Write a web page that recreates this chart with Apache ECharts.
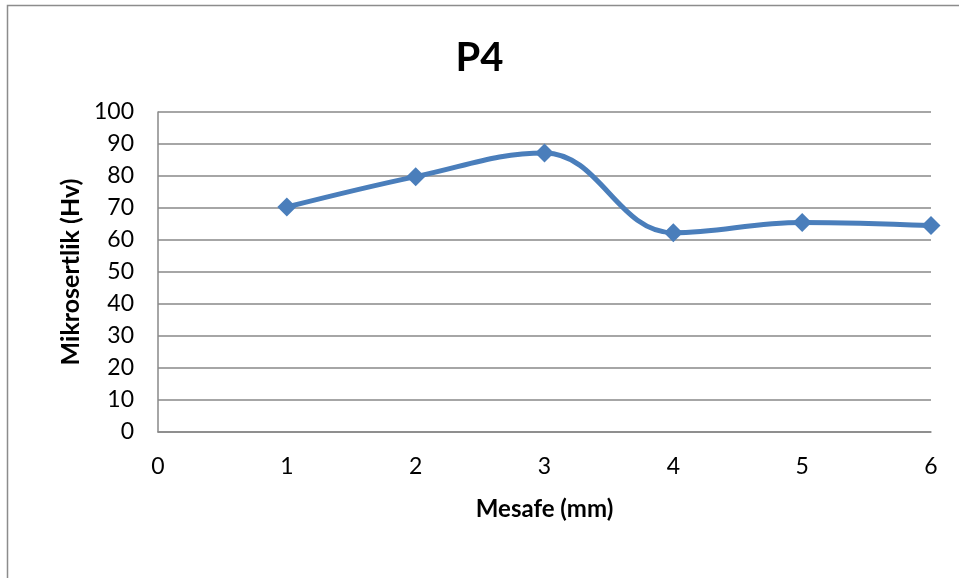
<!DOCTYPE html>
<html>
<head>
<meta charset="utf-8">
<script src="https://cdn.jsdelivr.net/npm/echarts@6/dist/echarts.min.js"></script>
<style>
html,body{margin:0;padding:0;background:#fff;}
#chart{width:959px;height:578px;}
</style>
</head>
<body>
<div id="chart"></div>
<script>
var titleText = 'P4';
var xAxisName = 'Mesafe (mm)';
var yAxisName = 'Mikrosertlik (Hv)';
var xValues = [1, 2, 3, 4, 5, 6];
var yValues = [70.3, 79.8, 87.2, 62.3, 65.5, 64.5];

var FONT = 'Lato';
var chart = echarts.init(document.getElementById('chart'));
chart.setOption({
  backgroundColor: '#ffffff',
  animation: false,
  graphic: [{
    type: 'rect',
    shape: {x: 7.5, y: 5.5, width: 1200, height: 1200},
    style: {fill: 'none', stroke: '#8c8c8c', lineWidth: 1.5},
    silent: true
  }],
  title: {
    text: titleText,
    left: 'center',
    top: 33,
    textStyle: {fontFamily: FONT, fontSize: 40, fontWeight: 'bold', color: '#000'}
  },
  grid: {left: 158, right: 28, top: 112, bottom: 146, containLabel: false},
  xAxis: {
    type: 'value',
    min: 0, max: 6, interval: 1,
    name: xAxisName,
    nameLocation: 'middle',
    nameGap: 65,
    nameTextStyle: {fontFamily: FONT, fontSize: 24, fontWeight: 'bold', color: '#000'},
    axisLine: {show: true, lineStyle: {color: '#888', width: 1.5}},
    axisTick: {show: false},
    splitLine: {show: false},
    axisLabel: {fontFamily: FONT, fontSize: 23, color: '#000', margin: 23}
  },
  yAxis: {
    type: 'value',
    min: 0, max: 100, interval: 10,
    name: yAxisName,
    nameLocation: 'middle',
    nameGap: 74,
    nameRotate: 90,
    nameTextStyle: {fontFamily: FONT, fontSize: 25, fontWeight: 'bold', color: '#000'},
    axisLine: {show: true, lineStyle: {color: '#888', width: 1.5}},
    axisTick: {show: false},
    splitLine: {show: true, lineStyle: {color: '#888', width: 1.5}},
    axisLabel: {fontFamily: FONT, fontSize: 23, color: '#000', margin: 24}
  },
  series: [{
    type: 'line',
    data: xValues.map(function (x, i) { return [x, yValues[i]]; }),
    smooth: 0.4,
    symbol: 'diamond',
    symbolSize: 19,
    lineStyle: {color: '#4A7EBB', width: 5},
    itemStyle: {color: '#4A7EBB'}
  }]
});
</script>
</body>
</html>
